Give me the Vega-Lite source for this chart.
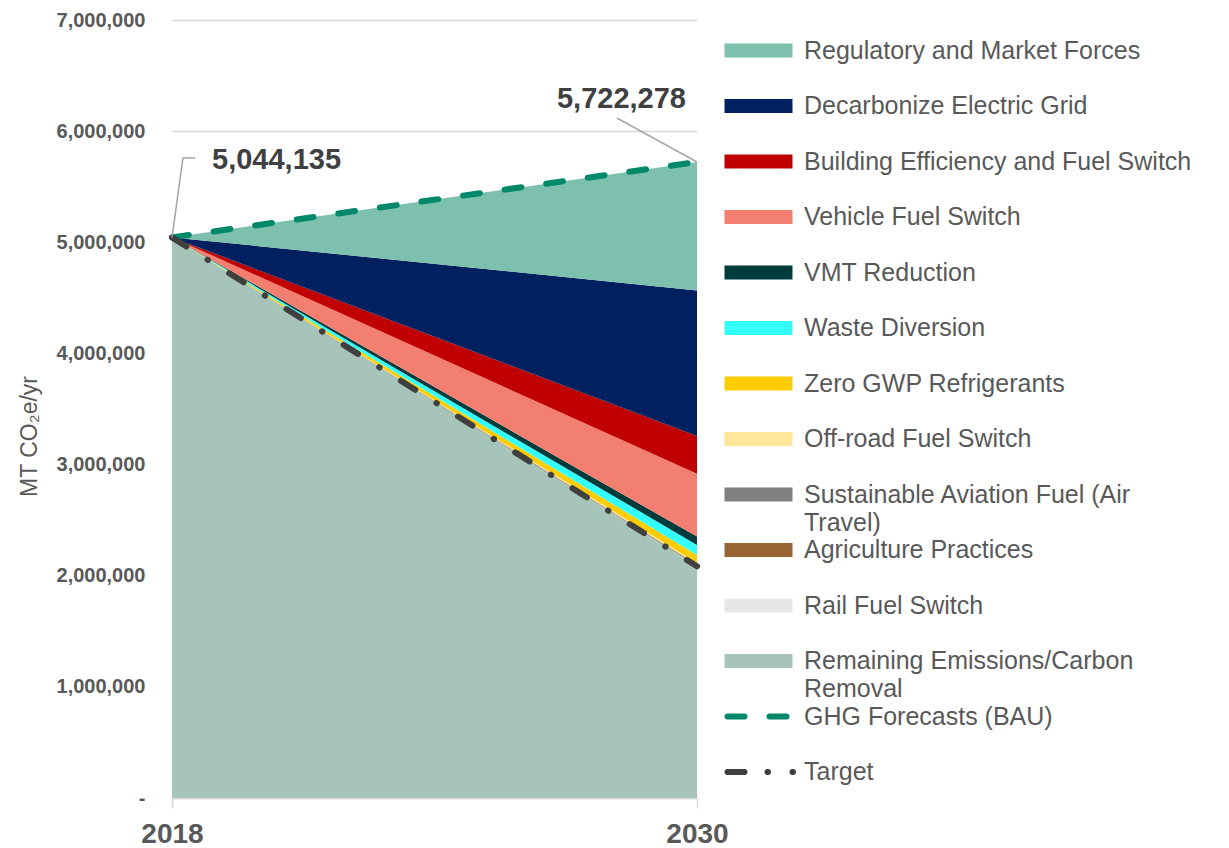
{
  "$schema": "https://vega.github.io/schema/vega-lite/v6.json",
  "width": 525,
  "height": 778,
  "autosize": {"type": "none"},
  "padding": {"left": 172, "top": 20, "right": 532, "bottom": 50},
  "background": "white",
  "config": {"font": "Liberation Sans", "view": {"stroke": null}},
  "layer": [
    {
      "data": {
        "values": [
          {"year": 2018, "series": "Remaining Emissions/Carbon Removal", "value": 5044135},
          {"year": 2030, "series": "Remaining Emissions/Carbon Removal", "value": 2085000},
          {"year": 2018, "series": "Rail Fuel Switch", "value": 0},
          {"year": 2030, "series": "Rail Fuel Switch", "value": 3000},
          {"year": 2018, "series": "Agriculture Practices", "value": 0},
          {"year": 2030, "series": "Agriculture Practices", "value": 7000},
          {"year": 2018, "series": "Sustainable Aviation Fuel (Air Travel)", "value": 0},
          {"year": 2030, "series": "Sustainable Aviation Fuel (Air Travel)", "value": 5000},
          {"year": 2018, "series": "Off-road Fuel Switch", "value": 0},
          {"year": 2030, "series": "Off-road Fuel Switch", "value": 15000},
          {"year": 2018, "series": "Zero GWP Refrigerants", "value": 0},
          {"year": 2030, "series": "Zero GWP Refrigerants", "value": 72000},
          {"year": 2018, "series": "Waste Diversion", "value": 0},
          {"year": 2030, "series": "Waste Diversion", "value": 90000},
          {"year": 2018, "series": "VMT Reduction", "value": 0},
          {"year": 2030, "series": "VMT Reduction", "value": 75000},
          {"year": 2018, "series": "Vehicle Fuel Switch", "value": 0},
          {"year": 2030, "series": "Vehicle Fuel Switch", "value": 565000},
          {"year": 2018, "series": "Building Efficiency and Fuel Switch", "value": 0},
          {"year": 2030, "series": "Building Efficiency and Fuel Switch", "value": 340000},
          {"year": 2018, "series": "Decarbonize Electric Grid", "value": 0},
          {"year": 2030, "series": "Decarbonize Electric Grid", "value": 1310000},
          {"year": 2018, "series": "Regulatory and Market Forces", "value": 0},
          {"year": 2030, "series": "Regulatory and Market Forces", "value": 1155278}
        ]
      },
      "transform": [
        {"calculate": "indexof(['Remaining Emissions/Carbon Removal','Rail Fuel Switch','Agriculture Practices','Sustainable Aviation Fuel (Air Travel)','Off-road Fuel Switch','Zero GWP Refrigerants','Waste Diversion','VMT Reduction','Vehicle Fuel Switch','Building Efficiency and Fuel Switch','Decarbonize Electric Grid','Regulatory and Market Forces'], datum.series)", "as": "ord"}
      ],
      "mark": {"type": "area", "interpolate": "linear"},
      "encoding": {
        "x": {
          "field": "year", "type": "quantitative",
          "scale": {"domain": [2018, 2030], "nice": false, "zero": false},
          "axis": {
            "title": null, "values": [2018, 2030], "format": "d",
            "labelFlush": false, "labelFontSize": 28, "labelFontWeight": "bold", "labelColor": "#595959",
            "labelPadding": 12, "domain": true, "domainColor": "#d9d9d9", "domainWidth": 1.5,
            "ticks": true, "tickColor": "#d9d9d9", "tickSize": 10, "tickWidth": 1.5, "grid": false
          }
        },
        "y": {
          "field": "value", "type": "quantitative", "stack": "zero",
          "scale": {"domain": [0, 7000000], "nice": false},
          "axis": {
            "title": "MT CO₂e/yr", "titleFontSize": 23, "titleFontWeight": "normal", "titleColor": "#595959",
            "titleX": -131, "titleY": 416,
            "values": [0, 1000000, 2000000, 3000000, 4000000, 5000000, 6000000, 7000000],
            "labelExpr": "datum.value == 0 ? '-' : format(datum.value, ',')",
            "labelFontSize": 20, "labelFontWeight": "bold", "labelColor": "#595959", "labelPadding": 27,
            "ticks": false, "domain": false, "grid": true, "gridColor": "#d9d9d9", "gridWidth": 1.5
          }
        },
        "color": {
          "field": "series", "type": "nominal",
          "scale": {
            "domain": ["Regulatory and Market Forces", "Decarbonize Electric Grid", "Building Efficiency and Fuel Switch", "Vehicle Fuel Switch", "VMT Reduction", "Waste Diversion", "Zero GWP Refrigerants", "Off-road Fuel Switch", "Sustainable Aviation Fuel (Air Travel)", "Agriculture Practices", "Rail Fuel Switch", "Remaining Emissions/Carbon Removal", "GHG Forecasts (BAU)", "Target"],
            "range": ["#7cc0ad", "#002060", "#c00000", "#f37f71", "#003c3c", "#33ffff", "#ffcc00", "#ffe699", "#808080", "#996633", "#e7e6e6", "#a6c4ba", "#00886b", "#404040"]
          },
          "legend": {
            "title": null, "orient": "none", "legendX": 547, "legendY": 18,
            "labelFontSize": 25, "labelColor": "#595959", "labelLimit": 500, "labelOffset": 60,
            "gridAlign": "all", "rowPadding": 1.5, "padding": 0, "symbolSize": 196, "symbolStrokeWidth": 0,
            "labelExpr": "datum.label == 'Sustainable Aviation Fuel (Air Travel)' ? ['Sustainable Aviation Fuel (Air', 'Travel)'] : datum.label == 'Remaining Emissions/Carbon Removal' ? ['Remaining Emissions/Carbon', 'Removal'] : datum.label",
            "encode": {
              "symbols": {
                "update": {
                  "shape": {"signal": "(datum.value == 'GHG Forecasts (BAU)' || datum.value == 'Target') ? 'M-0.571,0H9.3' : 'M-1,-1H8.714V1H-1Z'"},
                  "fill": {"signal": "(datum.value == 'GHG Forecasts (BAU)' || datum.value == 'Target') ? 'transparent' : scale('color', datum.value)"},
                  "stroke": {"signal": "(datum.value == 'GHG Forecasts (BAU)' || datum.value == 'Target') ? scale('color', datum.value) : 'transparent'"},
                  "strokeWidth": {"signal": "(datum.value == 'GHG Forecasts (BAU)' || datum.value == 'Target') ? 6 : 0"},
                  "strokeDash": {"signal": "datum.value == 'Target' ? [17, 23, 0.5, 24.5, 0.5, 100] : datum.value == 'GHG Forecasts (BAU)' ? [17, 25, 17, 100] : [1, 0]"},
                  "strokeCap": {"value": "round"},
                  "opacity": {"value": 1}
                }
              },
              "labels": {
                "update": {
                  "lineHeight": {"value": 28}
                }
              }
            }
          }
        },
        "order": {"field": "ord", "type": "quantitative"}
      }
    },
    {
      "data": {
        "values": [
          {"year": 2018, "series": "GHG Forecasts (BAU)", "value": 5044135},
          {"year": 2030, "series": "GHG Forecasts (BAU)", "value": 5722278}
        ]
      },
      "mark": {"type": "line", "strokeWidth": 6, "strokeDash": [17, 25], "strokeCap": "round"},
      "encoding": {
        "x": {"field": "year", "type": "quantitative"},
        "y": {"field": "value", "type": "quantitative"},
        "color": {"field": "series", "type": "nominal"}
      }
    },
    {
      "data": {
        "values": [
          {"year": 2018, "series": "Target", "value": 5044135},
          {"year": 2030, "series": "Target", "value": 2085000}
        ]
      },
      "mark": {"type": "line", "strokeWidth": 6, "strokeDash": [17, 25, 0.5, 25], "strokeCap": "round"},
      "encoding": {
        "x": {"field": "year", "type": "quantitative"},
        "y": {"field": "value", "type": "quantitative"},
        "color": {"field": "series", "type": "nominal"}
      }
    },
    {
      "data": {
        "values": [
          {"year": 2018, "value": 5044135},
          {"year": 2018.25, "value": 5758000},
          {"year": 2018.53, "value": 5758000}
        ]
      },
      "mark": {"type": "line", "color": "#a6a6a6", "strokeWidth": 1.5},
      "encoding": {
        "x": {"field": "year", "type": "quantitative"},
        "y": {"field": "value", "type": "quantitative"}
      }
    },
    {
      "data": {
        "values": [
          {"year": 2030, "value": 5722278},
          {"year": 2028.17, "value": 6118000}
        ]
      },
      "mark": {"type": "line", "color": "#a6a6a6", "strokeWidth": 1.5},
      "encoding": {
        "x": {"field": "year", "type": "quantitative"},
        "y": {"field": "value", "type": "quantitative"}
      }
    },
    {
      "data": {"values": [{"year": 2018, "value": 5044135, "label": "5,044,135"}]},
      "mark": {"type": "text", "align": "left", "baseline": "alphabetic", "dx": 40, "dy": -68, "fontSize": 29, "fontWeight": "bold", "color": "#404040"},
      "encoding": {
        "x": {"field": "year", "type": "quantitative"},
        "y": {"field": "value", "type": "quantitative"},
        "text": {"field": "label"}
      }
    },
    {
      "data": {"values": [{"year": 2030, "value": 5722278, "label": "5,722,278"}]},
      "mark": {"type": "text", "align": "right", "baseline": "alphabetic", "dx": -11, "dy": -54, "fontSize": 29, "fontWeight": "bold", "color": "#404040"},
      "encoding": {
        "x": {"field": "year", "type": "quantitative"},
        "y": {"field": "value", "type": "quantitative"},
        "text": {"field": "label"}
      }
    }
  ]
}
